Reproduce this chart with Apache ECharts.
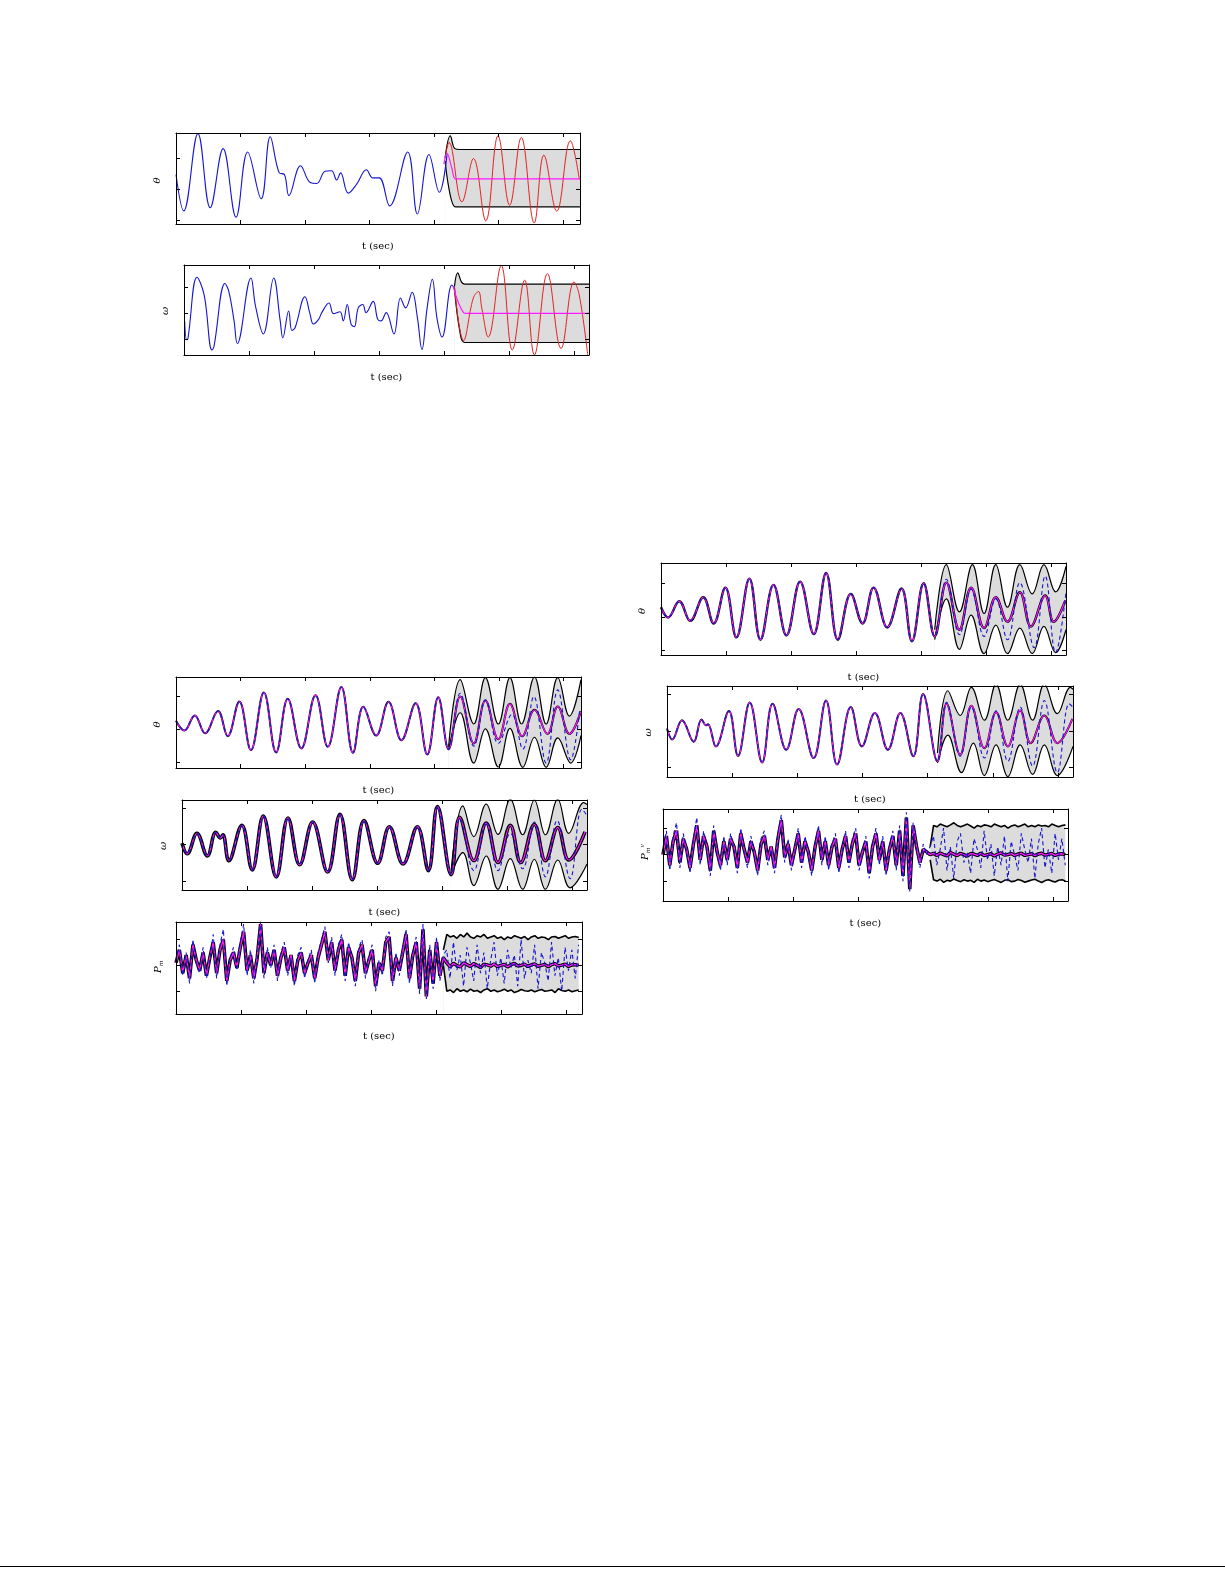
<!DOCTYPE html>
<html>
<head>
<meta charset="utf-8">
<script src="https://cdn.jsdelivr.net/npm/echarts@6/dist/echarts.min.js"></script>
<style>html,body{margin:0;padding:0;background:#fff}#main{width:1225px;height:1585px}</style>
</head>
<body>
<div id="main"></div>
<script>
// x ticks (t) and y ticks shared by all panels
var xTicks = [1, 2, 3, 4, 5, 6];
var yTicks = [-1, 0, 1];

// ---- panel 1 : theta, top
var th1Blue = [[0,0.47],[0.12,-0.7],[0.34,1.78],[0.53,-0.6],[0.73,1.3],[0.93,-0.9],[1.11,1.19],[1.32,-0.31],[1.46,1.68],[1.6,0.52],[1.68,0.47],[1.75,-0.21],[1.93,0.75],[2.08,0.21],[2.18,0.18],[2.31,0.57],[2.41,0.59],[2.49,0.29],[2.55,0.52],[2.67,-0.13],[2.8,0.16],[2.95,0.62],[3.05,0.36],[3.15,0.36],[3.31,-0.54],[3.59,1.19],[3.74,-0.8],[3.92,1.11],[4.08,-0.1],[4.2,1.12]];
var th1Red = [[4.17,1.0],[4.23,1.5],[4.43,-0.41],[4.61,0.98],[4.8,-1.02],[4.99,1.71],[5.17,-0.52],[5.35,1.66],[5.55,-1.09],[5.7,1.09],[5.9,-0.71],[6.11,1.55],[6.25,0.31]];
var th1Up = [[4.17,1.0],[4.25,1.71],[4.32,1.3],[4.4,1.27],[6.26,1.27]];
var th1Lo = [[4.17,0.9],[4.25,-0.2],[4.33,-0.57],[4.4,-0.57],[6.26,-0.57]];
var th1Mag = [[4.15,0.8],[4.2,1.15],[4.27,0.7],[4.33,0.33],[4.4,0.33],[6.26,0.33]];

// ---- panel 2 : omega, top
var om2Blue = [[0.01,-0.29],[0.04,-1.01],[0.06,-0.98],[0.2,1.39],[0.31,0.71],[0.43,-1.41],[0.46,-1.29],[0.63,1.15],[0.69,0.84],[0.77,-0.29],[0.82,-1.16],[1.03,1.36],[1.1,0.28],[1.22,-0.79],[1.38,1.36],[1.48,-0.29],[1.52,-0.94],[1.61,0.09],[1.66,-0.66],[1.71,-0.54],[1.86,0.64],[1.94,-0.04],[1.99,-0.41],[2.07,-0.23],[2.12,0.03],[2.23,0.4],[2.3,-0.01],[2.4,0.06],[2.45,-0.29],[2.51,0.34],[2.57,-0.41],[2.62,-0.51],[2.68,0.21],[2.75,0.34],[2.8,0.03],[2.91,0.46],[2.98,-0.23],[3.03,-0.29],[3.11,0.03],[3.23,-0.79],[3.33,0.59],[3.41,0.21],[3.51,0.81],[3.59,-0.16],[3.66,-1.39],[3.74,0.21],[3.82,1.31],[3.89,-0.16],[3.97,-0.91],[4.12,1.09],[4.16,0.96]];
var om2Red = [[4.16,1.03],[4.3,-1.04],[4.45,0.59],[4.53,0.84],[4.58,0.21],[4.68,-0.91],[4.88,1.84],[5.05,-1.41],[5.24,1.28],[5.39,-1.6],[5.59,1.53],[5.8,-1.35],[6.0,1.21],[6.08,0.71],[6.21,-1.6]];
var om2Up = [[4.16,1.03],[4.21,1.56],[4.27,1.2],[4.32,1.125],[6.23,1.125]];
var om2Lo = [[4.16,0.97],[4.25,-0.79],[4.32,-1.12],[6.23,-1.12]];
var om2Mag = [[4.14,1.03],[4.3,0.03],[4.35,0],[6.23,0]];

// ---- panel 3 : theta, lower left
var th3Common = [[0,0.27],[0.13,-0.03],[0.29,0.43],[0.45,-0.11],[0.65,0.56],[0.8,-0.2],[0.98,0.85],[1.16,-0.62],[1.36,1.12],[1.55,-0.69],[1.73,0.93],[1.94,-0.57],[2.16,1.04],[2.35,-0.52],[2.56,1.29],[2.74,-0.7],[2.9,0.69],[3.1,-0.18],[3.29,0.84],[3.49,-0.32],[3.71,0.8],[3.89,-0.75],[4.06,0.98],[4.22,-0.59]];
var th3MagTail = [[4.4,1.0],[4.61,-0.42],[4.79,0.88],[4.99,-0.29],[5.17,0.78],[5.36,-0.2],[5.55,0.6],[5.75,-0.13],[5.91,0.7],[6.09,-0.13],[6.27,0.56]];
var th3BlueTail = [[4.4,1.1],[4.61,-0.5],[4.79,0.9],[4.99,-0.42],[5.2,0.46],[5.37,-0.59],[5.54,1.0],[5.73,-1.01],[5.91,1.2],[6.11,-0.91],[6.25,0.6]];
var th3Up = [[4.22,-0.52],[4.4,1.51],[4.61,0.17],[4.79,1.57],[4.99,0.17],[5.17,1.57],[5.35,0.17],[5.55,1.59],[5.73,0.17],[5.91,1.57],[6.09,0.41],[6.27,1.51]];
var th3Lo = [[4.22,-0.62],[4.4,0.51],[4.61,-1.01],[4.79,0.02],[4.99,-1.13],[5.17,0.04],[5.37,-1.14],[5.55,-0.23],[5.73,-1.14],[5.91,-0.25],[6.11,-1.01],[6.27,-0.18]];

// ---- panel 4 : omega, lower left
var om4Common = [[0,0.04],[0.08,-0.25],[0.23,0.31],[0.39,-0.31],[0.52,0.34],[0.59,0.18],[0.63,0.27],[0.72,-0.44],[0.92,0.53],[1.08,-0.69],[1.25,0.78],[1.45,-0.88],[1.63,0.73],[1.81,-0.55],[2.01,0.62],[2.24,-0.75],[2.43,0.83],[2.62,-0.96],[2.8,0.66],[3.01,-0.51],[3.19,0.49],[3.4,-0.53],[3.62,0.49],[3.79,-0.71],[3.93,1.04],[4.14,-0.82]];
var om4MagTail = [[4.27,0.75],[4.49,-0.44],[4.68,0.59],[4.86,-0.49],[5.05,0.53],[5.21,-0.49],[5.42,0.55],[5.59,-0.44],[5.78,0.47],[5.95,-0.42],[6.2,0.35]];
var om4BlueTail = [[4.27,0.71],[4.49,-0.71],[4.68,0.62],[4.86,-0.71],[5.05,0.31],[5.24,-0.66],[5.42,0.62],[5.59,-0.88],[5.77,0.66],[5.97,-0.93],[6.15,0.97],[6.23,0.8]];
var om4Up = [[4.14,-0.71],[4.32,1.06],[4.49,0.22],[4.68,1.11],[4.86,0.28],[5.05,1.24],[5.24,0.27],[5.42,1.22],[5.59,0.27],[5.78,1.24],[5.95,0.31],[6.18,1.15],[6.23,1.1]];
var om4Lo = [[4.14,-0.84],[4.32,-0.22],[4.49,-1.12],[4.68,-0.31],[4.86,-1.22],[5.05,-0.38],[5.24,-1.22],[5.42,-0.4],[5.59,-1.22],[5.78,-0.42],[5.97,-1.18],[6.23,-0.53]];

// ---- panel 5 : P_m, lower left (step 0.052 in t)
var pm5Step = 0.052;
var pm5Mag = [0.1,0.6,-0.3,0.4,-0.5,0.8,0.2,-0.2,0.5,-0.4,0.3,0.9,-0.3,0.6,1.0,-0.6,0.2,0.5,-0.1,0.7,1.3,-0.2,0.4,-0.5,0.3,1.6,-0.3,0.5,0.0,0.6,-0.4,0.3,0.7,-0.2,0.4,-0.6,0.2,0.5,-0.3,0.1,0.4,-0.5,0.3,0.8,1.3,0.2,0.9,-0.2,0.6,1.0,-0.4,0.7,0.3,-0.6,0.5,0.8,-0.3,0.2,0.6,-0.8,0.1,-0.2,0.9,1.1,-0.6,0.3,-0.2,0.5,1.2,-0.5,0.4,0.9,-0.9,1.4,-1.2,0.6,-0.7,0.9,-0.4,0.3,
  0.1,-0.05,0.08,0.0,-0.06,0.1,0.03,-0.04,0.07,0.0,-0.08,0.05,0.02,-0.03,0.06,-0.05,0.0,0.04,-0.06,0.03,0.08,-0.02,0.0,0.05,-0.04,0.02,0.06,-0.03,0.0,0.04,-0.05,0.03,0.07,-0.02,0.01,0.05,-0.04,0.02,0.03,0.0];
var pm5Blue = [0.2,0.8,-0.4,0.5,-0.7,1.0,0.1,-0.3,0.7,-0.5,0.2,1.2,-0.5,0.8,1.4,-0.8,0.3,0.7,-0.2,0.9,1.6,-0.4,0.6,-0.7,0.2,1.7,-0.5,0.7,-0.1,0.8,-0.6,0.5,0.9,-0.4,0.3,-0.8,0.4,0.7,-0.5,0.2,0.6,-0.7,0.5,1.0,1.5,0.1,1.1,-0.4,0.8,1.2,-0.6,0.9,0.2,-0.8,0.7,1.0,-0.5,0.4,0.8,-1.0,0.2,-0.4,1.1,1.3,-0.8,0.5,-0.4,0.7,1.4,-0.7,0.5,1.1,-1.1,1.6,-1.3,0.8,-0.9,1.1,-0.6,0.4,
  0.6,-0.5,0.9,-0.2,0.4,-0.8,0.7,0.1,-0.6,0.8,-0.3,0.5,-0.9,0.2,0.9,-0.4,0.3,-0.7,0.6,-0.1,0.4,-0.8,1.0,-0.5,0.2,-0.3,0.8,-0.9,0.5,0.1,-0.6,0.9,-0.4,0.3,-1.0,0.7,-0.2,0.6,-0.5,0.8];
var pm5Up = [0.6,1.2,1.1,1.15,1.05,1.2,1.1,1.25,1.1,1.05,1.15,1.1,1.2,1.05,1.1,1.15,1.05,1.1,1.0,1.1,1.05,1.15,1.1,1.05,1.12,1.0,1.1,1.15,1.05,1.1,1.08,1.0,1.1,1.12,1.05,1.1,1.15,1.05,1.1,1.12,1.08];
var pm5Lo = [0.0,-1.0,-0.95,-1.05,-0.9,-1.0,-0.95,-1.02,-0.92,-1.0,-0.97,-1.05,-0.95,-0.9,-1.0,-0.95,-1.02,-0.98,-0.92,-1.0,-0.95,-1.05,-1.0,-0.93,-0.98,-1.0,-0.95,-1.02,-0.97,-0.93,-1.0,-0.98,-0.95,-1.05,-0.9,-0.97,-1.0,-0.95,-1.02,-0.98,-0.95];

// ---- panel 6 : theta, right
var th6Common = [[0,0.29],[0.11,-0.02],[0.28,0.47],[0.45,-0.12],[0.65,0.59],[0.81,-0.2],[0.99,0.88],[1.16,-0.62],[1.36,1.15],[1.53,-0.69],[1.73,0.96],[1.93,-0.56],[2.14,1.06],[2.35,-0.52],[2.54,1.32],[2.72,-0.69],[2.92,0.69],[3.1,-0.2],[3.27,0.88],[3.48,-0.32],[3.7,0.85],[3.86,-0.74],[4.04,1.01],[4.21,-0.59]];
var th6MagTail = [[4.39,1.03],[4.59,-0.39],[4.77,0.88],[4.97,-0.34],[5.15,0.59],[5.33,-0.15],[5.52,0.74],[5.69,-0.29],[5.91,0.64],[6.04,-0.15],[6.22,0.49]];
var th6BlueTail = [[4.39,1.13],[4.59,-0.54],[4.77,0.83],[4.97,-0.59],[5.15,0.54],[5.33,-0.69],[5.52,1.03],[5.74,-0.93],[5.91,1.23],[6.07,-1.08],[6.23,0.74]];
var th6Up = [[4.21,-0.39],[4.39,1.57],[4.59,0.15],[4.79,1.57],[4.97,0.1],[5.15,1.57],[5.33,0.29],[5.52,1.57],[5.71,0.69],[5.89,1.57],[6.07,0.75],[6.23,1.52]];
var th6Lo = [[4.21,-0.69],[4.39,0.54],[4.59,-0.98],[4.77,0.05],[4.97,-1.11],[5.15,-0.25],[5.33,-1.11],[5.52,-0.34],[5.71,-1.11],[5.89,-0.29],[6.07,-1.08],[6.23,-0.39]];

// ---- panel 7 : omega, right
var om7Common = [[0,0.07],[0.08,-0.23],[0.23,0.3],[0.41,-0.29],[0.53,0.32],[0.6,0.16],[0.63,0.19],[0.75,-0.42],[0.95,0.55],[1.09,-0.68],[1.27,0.79],[1.46,-0.86],[1.62,0.75],[1.83,-0.51],[2.02,0.61],[2.25,-0.74],[2.44,0.84],[2.61,-0.92],[2.82,0.66],[2.99,-0.42],[3.19,0.5],[3.39,-0.51],[3.58,0.5],[3.78,-0.69],[3.93,1.02],[4.15,-0.83]];
var om7MagTail = [[4.29,0.75],[4.5,-0.65],[4.67,0.7],[4.87,-0.47],[5.05,0.52],[5.23,-0.42],[5.42,0.57],[5.58,-0.33],[5.79,0.43],[5.99,-0.33],[6.22,0.34]];
var om7BlueTail = [[4.29,0.79],[4.5,-0.69],[4.67,0.66],[4.87,-0.74],[5.05,0.56],[5.23,-0.83],[5.42,0.66],[5.61,-0.96],[5.79,0.84],[5.99,-1.14],[6.17,0.75],[6.23,0.66]];
var om7Up = [[4.15,-0.6],[4.31,1.11],[4.5,0.43],[4.67,1.2],[4.87,0.3],[5.05,1.29],[5.23,0.3],[5.42,1.29],[5.61,0.3],[5.79,1.29],[5.99,0.48],[6.19,1.2],[6.23,1.15]];
var om7Lo = [[4.15,-0.87],[4.31,-0.11],[4.52,-1.14],[4.7,-0.33],[4.87,-1.22],[5.05,-0.38],[5.23,-1.25],[5.42,-0.38],[5.61,-1.19],[5.79,-0.38],[5.99,-1.22],[6.23,-0.42]];

// ---- panel 8 : P_m^v, right (step 0.052 in t)
var pm8Step = 0.052;
var pm8Mag = [0.0,0.7,-0.4,0.5,0.9,-0.3,0.6,0.2,-0.5,0.4,1.1,-0.2,0.7,0.3,-0.6,0.9,0.1,-0.4,0.5,-0.2,0.6,0.3,-0.5,0.8,0.2,-0.3,0.5,0.1,-0.6,0.4,0.7,-0.2,0.3,-0.5,0.6,1.3,-0.1,0.4,-0.4,0.2,0.8,-0.3,0.5,0.1,-0.6,0.3,0.9,-0.2,0.5,-0.4,0.3,0.6,-0.5,0.2,0.7,-0.3,0.4,0.8,-0.4,0.1,0.5,-0.7,0.3,0.8,-0.2,0.5,-0.6,0.2,0.7,-0.4,0.9,-0.8,1.4,-1.3,1.1,0.3,-0.3,0.2,0.1,0.0,
  0.05,-0.03,0.06,0.0,-0.05,0.08,0.02,-0.04,0.05,0.0,-0.06,0.04,0.02,-0.03,0.05,-0.04,0.0,0.03,-0.05,0.02,0.06,-0.02,0.0,0.04,-0.03,0.02,0.05,-0.03,0.0,0.03,-0.04,0.02,0.05,-0.02,0.01,0.04,-0.03,0.02,0.03,0.0];
var pm8Blue = [0.1,0.9,-0.6,0.7,1.2,-0.5,0.8,0.1,-0.7,0.6,1.4,-0.4,0.9,0.2,-0.8,1.1,0.0,-0.6,0.7,-0.4,0.8,0.2,-0.7,1.0,0.1,-0.5,0.7,0.0,-0.8,0.6,0.9,-0.4,0.2,-0.7,0.8,1.5,-0.3,0.6,-0.6,0.1,1.0,-0.5,0.7,0.0,-0.8,0.4,1.1,-0.4,0.7,-0.6,0.4,0.8,-0.7,0.1,0.9,-0.5,0.6,1.0,-0.6,0.0,0.7,-0.9,0.4,1.0,-0.4,0.7,-0.8,0.3,0.9,-0.6,1.1,-1.0,1.6,-1.4,1.2,0.2,-0.5,0.4,0.0,0.3,
  0.7,-0.4,0.2,1.0,-0.6,0.3,-0.9,0.5,0.8,-0.3,0.1,-0.7,0.6,0.2,-0.5,0.9,-0.2,0.4,-0.8,0.3,-0.4,0.7,-1.0,0.5,0.0,-0.6,0.8,0.2,-0.3,0.6,-0.9,0.4,1.0,-0.5,0.2,-0.7,0.8,-0.2,0.6,-0.4];
var pm8Up = [0.3,1.1,1.05,1.15,1.1,1.05,1.12,1.2,1.1,1.05,1.1,1.15,1.08,1.0,1.1,1.05,1.12,1.1,1.05,1.15,1.1,1.05,1.1,1.0,1.08,1.12,1.05,1.1,1.15,1.05,1.1,1.05,1.12,1.08,1.1,1.05,1.15,1.1,1.05,1.1,1.12];
var pm8Lo = [-0.2,-0.95,-1.0,-0.93,-1.05,-0.97,-1.0,-0.92,-0.98,-1.02,-0.95,-1.0,-0.97,-1.05,-0.93,-1.0,-0.96,-1.02,-0.98,-0.94,-1.0,-1.05,-0.97,-0.95,-1.02,-1.0,-0.94,-0.98,-1.04,-1.0,-0.96,-0.93,-1.0,-1.05,-0.98,-0.95,-1.0,-1.03,-0.97,-0.95,-1.0];

var BLUE = '#1414d2', RED = '#e52222', MAG = '#ff1aff', GRAY = '#dcdcdc';

function series_of(vals, step, start) {
  return vals.map(function (v, i) { return [start + i * step, v]; });
}

var grids = [], xAxes = [], yAxes = [], series = [], graphics = [];

function addPanel(box, xmax, ymin, ymax, yLabel, parts) {
  var gi = grids.length;
  grids.push({left: box[0], top: box[1], width: box[2], height: box[3], show: false});
  var tk = {show: true, inside: true, length: 4, lineStyle: {color: '#000', width: 1}};
  ['bottom', 'top'].forEach(function (pos) {
    xAxes.push({type: 'value', gridIndex: gi, position: pos, min: 0, max: xmax, z: 20,
      axisLine: {show: true, onZero: false, lineStyle: {color: '#000', width: 1}},
      axisTick: Object.assign({customValues: xTicks}, tk), axisLabel: {show: false}, splitLine: {show: false}});
  });
  ['left', 'right'].forEach(function (pos) {
    yAxes.push({type: 'value', gridIndex: gi, position: pos, min: ymin, max: ymax, z: 20,
      axisLine: {show: true, onZero: false, lineStyle: {color: '#000', width: 1}},
      axisTick: Object.assign({customValues: yTicks}, tk), axisLabel: {show: false}, splitLine: {show: false}});
  });
  var ax = {xAxisIndex: gi * 2, yAxisIndex: gi * 2};
  var sm = parts.noisy ? false : 0.4;
  function line(data, color, width, dashed, z, area) {
    var s = Object.assign({type: 'line', data: data, showSymbol: false, symbol: 'none', silent: true,
      smooth: sm, z: z, lineStyle: {color: color, width: width, type: dashed ? [4, 3] : 'solid'}}, ax);
    if (area) s.areaStyle = {color: area, opacity: 1, origin: 'start'};
    series.push(s);
  }
  if (parts.up) {
    // gray band: fill under the upper bound, then blank out under the lower bound
    line(parts.up, 'rgba(0,0,0,0)', 0, false, 1, GRAY);
    line(parts.lo, 'rgba(0,0,0,0)', 0, false, 1.5, '#ffffff');
  }
  if (parts.under) line(parts.mag, '#000', parts.under, false, 2);
  if (parts.up) { line(parts.up, '#000', parts.noisy ? 1.6 : 1.2, false, 3); line(parts.lo, '#000', parts.noisy ? 1.6 : 1.2, false, 3); }
  if (parts.red) line(parts.red, RED, 1, false, 4);
  if (parts.mag) line(parts.mag, MAG, parts.noisy ? 1.4 : 1.2, false, 5);
  if (parts.blue) line(parts.blue, BLUE, 1.1, parts.dashed, 6);
  if (parts.magTop) line(parts.magTop, MAG, 1.2, false, 7);
  // labels
  graphics.push({type: 'text', left: box[0] + box[2] / 2 - 16, top: box[1] + box[3] + 17,
    style: {text: 't (sec)', font: '10px "DejaVu Serif", serif', fill: '#000'}});
  graphics.push({type: 'text', x: box[0] - 24, y: box[1] + box[3] / 2 + 5, rotation: Math.PI / 2,
    style: {text: yLabel, font: 'italic 10px "DejaVu Serif", serif', fill: '#000',
      rich: {s: {fontSize: 6, fontFamily: 'DejaVu Serif', fontStyle: 'italic', verticalAlign: 'bottom', padding: [6, 0, 0, 0]},
             p: {fontSize: 6, fontFamily: 'DejaVu Serif', fontStyle: 'italic', verticalAlign: 'top', padding: [0, 0, 6, 0]}}}});
}

// panel 1 & 2 : blue measurement, red truth, magenta estimate
addPanel([176, 133, 404, 91], 6.26, -1.12, 1.8, 'θ', {blue: th1Blue, red: th1Red, up: th1Up, lo: th1Lo, magTop: th1Mag});
addPanel([184, 265, 405, 90], 6.23, -1.6, 1.86, 'ω', {blue: om2Blue, red: om2Red, up: om2Up, lo: om2Lo, magTop: om2Mag});

// panels 3,4,5 : left column
addPanel([176, 677, 405, 91], 6.27, -1.16, 1.59, 'θ', {mag: th3Common.concat(th3MagTail), blue: th3Common.concat(th3BlueTail), dashed: true, up: th3Up, lo: th3Lo, under: 2});
addPanel([182, 800, 405, 90], 6.23, -1.24, 1.22, 'ω', {mag: om4Common.concat(om4MagTail), blue: om4Common.concat(om4BlueTail), dashed: true, up: om4Up, lo: om4Lo, under: 3.6});
addPanel([176, 922, 406, 92], 6.24, -1.88, 1.68, 'P{s|m}', {noisy: true, under: 3.5,
  mag: series_of(pm5Mag, pm5Step, 0), blue: series_of(pm5Blue, pm5Step, 0), dashed: true,
  up: series_of(pm5Up, pm5Step, 4.11), lo: series_of(pm5Lo, pm5Step, 4.11)});

// panels 6,7,8 : right column
addPanel([661, 563, 405, 92], 6.23, -1.15, 1.62, 'θ', {mag: th6Common.concat(th6MagTail), blue: th6Common.concat(th6BlueTail), dashed: true, up: th6Up, lo: th6Lo, under: 2.4});
addPanel([667, 686, 406, 91], 6.23, -1.26, 1.24, 'ω', {mag: om7Common.concat(om7MagTail), blue: om7Common.concat(om7BlueTail), dashed: true, up: om7Up, lo: om7Lo, under: 2});
addPanel([663, 809, 405, 92], 6.23, -1.75, 1.72, 'P{s|m}{p|v}', {noisy: true, under: 3.5,
  mag: series_of(pm8Mag, pm8Step, 0), blue: series_of(pm8Blue, pm8Step, 0), dashed: true,
  up: series_of(pm8Up, pm8Step, 4.11), lo: series_of(pm8Lo, pm8Step, 4.11)});

// page bottom rule
graphics.push({type: 'rect', shape: {x: 0, y: 1566, width: 1225, height: 1}, style: {fill: '#000'}});

var myChart = echarts.init(document.getElementById('main'));
myChart.setOption({
  animation: false,
  grid: grids,
  xAxis: xAxes,
  yAxis: yAxes,
  series: series,
  graphic: graphics
});
</script>
</body>
</html>
